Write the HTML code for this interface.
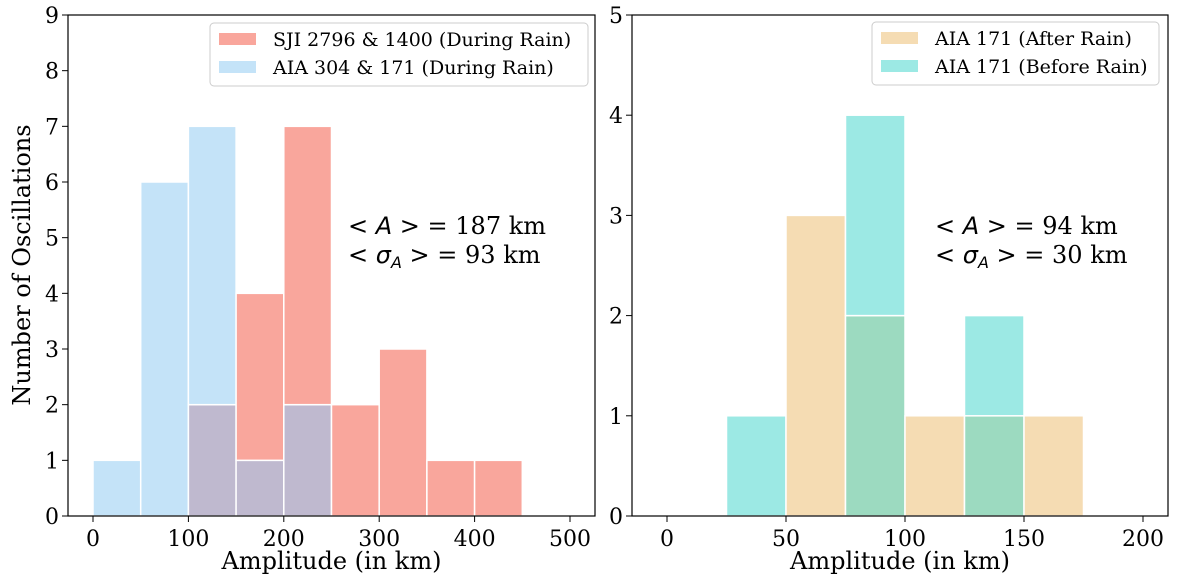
<!DOCTYPE html>
<html><head><meta charset="utf-8"><style>
body{margin:0;background:#fff;width:1200px;height:577px;overflow:hidden}
svg text{font-family:"DejaVu Serif","Liberation Serif",serif;fill:#000}
</style></head><body>
<svg id="c" width="1200" height="577"></svg>
<script>
const leftBins=[0,50,100,150,200,250,300,350,400,450];
const sjiCounts=[0,0,2,4,7,2,3,1,1];
const aiaDuringCounts=[1,6,7,1,2,0,0,0,0];
const leftXTicks=[0,100,200,300,400,500];
const leftYTicks=[0,1,2,3,4,5,6,7,8,9];
const rightBins=[25,50,75,100,125,150,175];
const afterCounts=[0,3,2,1,1,1];
const beforeCounts=[1,0,4,0,2,0];
const rightXTicks=[0,50,100,150,200];
const rightYTicks=[0,1,2,3,4,5];
const NS="http://www.w3.org/2000/svg";
const svg=document.getElementById('c');
function el(t,a,p){const e=document.createElementNS(NS,t);for(const k in a)e.setAttribute(k,a[k]);(p||svg).appendChild(e);return e;}
function panel(cfg){
  const g=el('g',{});
  
  
  const sx=v=>cfg.x0+(v-cfg.xmin)*(cfg.x1-cfg.x0)/(cfg.xmax-cfg.xmin);
  const sy=v=>cfg.y0-(v)*(cfg.y0-cfg.y1)/cfg.ymax;
  const n=cfg.bins.length-1;
  for(let i=0;i<n;i++){
    const a=cfg.s1[i],b=cfg.s2[i],xl=sx(cfg.bins[i]),xr=sx(cfg.bins[i+1]);
    const mn=Math.min(a,b);
    const parts=[];
    if(mn>0)parts.push([0,mn,cfg.cOv,'overlap-bar']);
    if(a>mn)parts.push([mn,a,cfg.c1,cfg.n1]);
    if(b>mn)parts.push([mn,b,cfg.c2,cfg.n2]);
    for(const p of parts){
      const r=el('rect',{x:xl,y:sy(p[1]),width:xr-xl,height:sy(p[0])-sy(p[1]),fill:p[2],stroke:'#fff','stroke-width':1.5},g);
      
      
    }
  }
  const fr=el('rect',{x:cfg.fx0,y:cfg.y1,width:cfg.fx1-cfg.fx0,height:cfg.y0-cfg.y1,fill:'none',stroke:'#000','stroke-width':1.2},g);
  
  
  for(const t of cfg.xt){
    el('line',{x1:sx(t),x2:sx(t),y1:cfg.y0,y2:cfg.y0+6,stroke:'#000'},g);
    const tx=el('text',{x:sx(t),y:cfg.y0+30,'text-anchor':'middle','font-size':22},g);
    tx.textContent=t;
    
    
  }
  for(const t of cfg.yt){
    el('line',{x1:cfg.fx0-6,x2:cfg.fx0,y1:sy(t),y2:sy(t),stroke:'#000'},g);
    const tx=el('text',{x:cfg.fx0-9,y:sy(t)+8,'text-anchor':'end','font-size':22},g);
    tx.textContent=t;
    
    
  }
  const xl=el('text',{x:(cfg.fx0+cfg.fx1)/2,y:569,'text-anchor':'middle','font-size':24},g);
  xl.textContent='Amplitude (in km)';
  
  
  const L=cfg.leg;
  const lb=el('rect',{x:L.x,y:L.y,width:L.w,height:63,rx:4,fill:'#fff',stroke:'#ccc'},g);
  
  
  [[cfg.c1,cfg.l1],[cfg.c2,cfg.l2]].forEach((e,i)=>{
    el('rect',{x:L.x+9,y:L.y+10+i*28,width:37,height:12,fill:e[0]},g);
    const t=el('text',{x:L.x+63,y:L.y+23+i*28,'font-size':19},g);
    t.textContent=e[1];
    
    
  });
  const an=el('text',{x:cfg.ax,y:234,'font-size':24},g);
  an.innerHTML='<tspan style="font-family:\'DejaVu Sans\',sans-serif">&lt; <tspan font-style="italic">A</tspan> &gt;</tspan> =  '+cfg.mean;
  
  
  const an2=el('text',{x:cfg.ax,y:263,'font-size':24},g);
  an2.innerHTML='<tspan style="font-family:\'DejaVu Sans\',sans-serif">&lt; <tspan font-style="italic">σ</tspan><tspan font-style="italic" font-size="16" dy="5">A</tspan><tspan dy="-5"> &gt;</tspan></tspan> =  '+cfg.sd;
  
  
}
panel({name:'left-panel',bins:leftBins,s1:sjiCounts,s2:aiaDuringCounts,xmin:0,xmax:500,x0:93,x1:570,fx0:68,fx1:595,y0:516,y1:15,ymax:9,
  c1:'#f9a69c',c2:'#c4e3f8',cOv:'#bfb9cf',n1:'sji-bar',n2:'aia-during-bar',xt:leftXTicks,yt:leftYTicks,
  leg:{x:210,y:23,w:378},l1:'SJI 2796 & 1400 (During Rain)',l2:'AIA 304 & 171 (During Rain)',ax:348,mean:'187 km',sd:'93 km'});
panel({name:'right-panel',bins:rightBins,s1:afterCounts,s2:beforeCounts,xmin:0,xmax:200,x0:667,x1:1143,fx0:632,fx1:1168,y0:516,y1:15,ymax:5,
  c1:'#f5dcb3',c2:'#9ce9e4',cOv:'#9cdac0',n1:'after-rain-bar',n2:'before-rain-bar',xt:rightXTicks,yt:rightYTicks,
  leg:{x:872,y:22,w:287},l1:'AIA 171 (After Rain)',l2:'AIA 171 (Before Rain)',ax:935,mean:'94 km',sd:'30 km'});
const yl=el('text',{x:0,y:0,'text-anchor':'middle','font-size':24,transform:'translate(30,265) rotate(-90)'});
yl.textContent='Number of Oscillations';


</script>
</body></html>
